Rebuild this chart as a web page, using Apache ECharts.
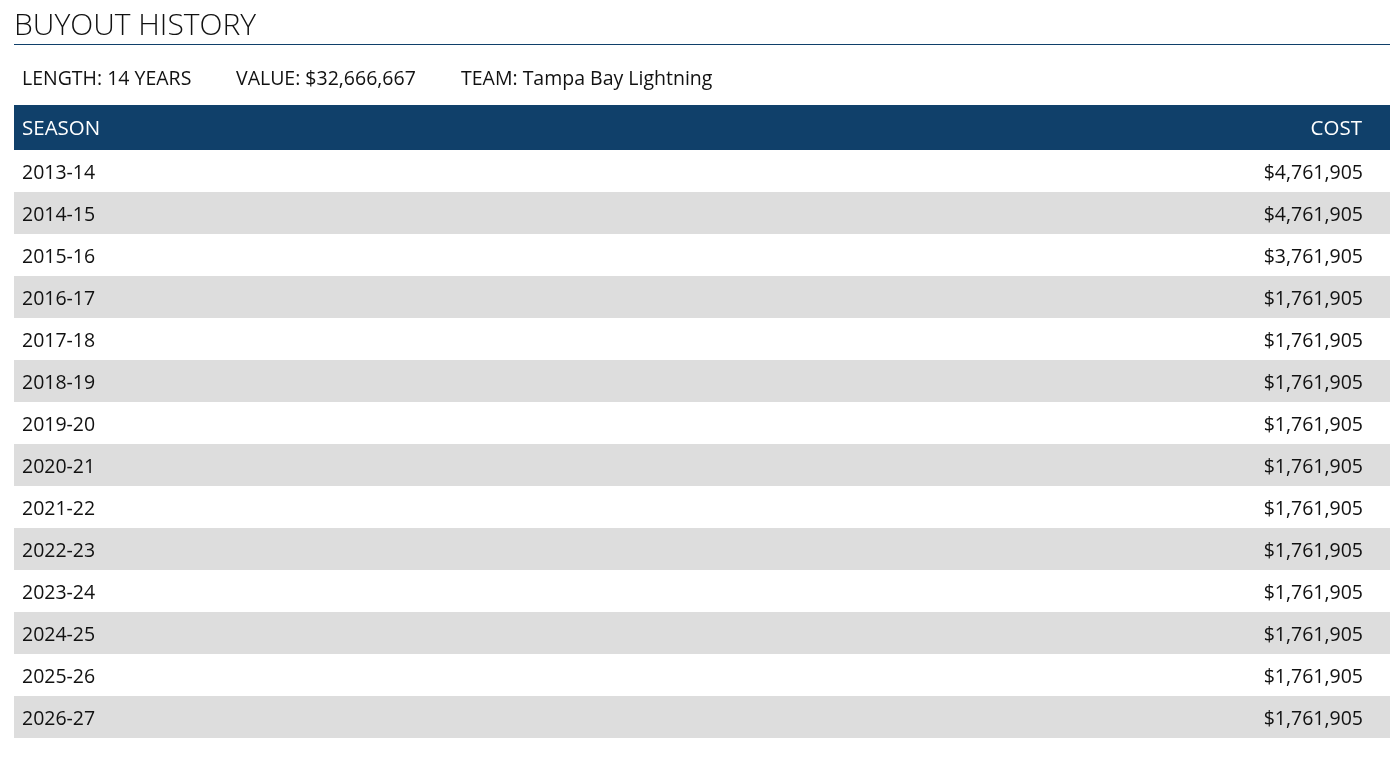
<!DOCTYPE html>
<html>
<head>
<meta charset="utf-8">
<script src="https://cdn.jsdelivr.net/npm/echarts@6/dist/echarts.min.js"></script>
<style>
html,body{margin:0;padding:0;background:#fff;}
#chart{width:1390px;height:762px;}
</style>
</head>
<body>
<div id="chart"></div>
<script>
const titleText = 'BUYOUT HISTORY';
const summaryItems = ['LENGTH: 14 YEARS', 'VALUE: $32,666,667', 'TEAM: Tampa Bay Lightning'];
const columnLabels = ['SEASON', 'COST'];
const seasons = ['2013-14','2014-15','2015-16','2016-17','2017-18','2018-19','2019-20','2020-21','2021-22','2022-23','2023-24','2024-25','2025-26','2026-27'];
const costs = [4761905,4761905,3761905,1761905,1761905,1761905,1761905,1761905,1761905,1761905,1761905,1761905,1761905,1761905];

const FONT = '"Open Sans", "Noto Sans", sans-serif';
const NAVY = '#10406a';
const BODY_FONT = '19.5px ' + FONT;
const HEAD_FONT = '20.5px ' + FONT;
const fmt = v => '$' + v.toLocaleString('en-US');

const chart = echarts.init(document.getElementById('chart'), null, {renderer: 'canvas'});
const summaryX = [22, 236, 461];

const option = {
  animation: false,
  backgroundColor: '#ffffff',
  title: {
    text: titleText, left: 9, top: 6,
    textStyle: {fontFamily: FONT, fontSize: 30, fontWeight: 300, color: '#111111'}
  },
  grid: {left: 14, right: 0, top: 150, height: 588, containLabel: false},
  xAxis: {type: 'value', min: 0, max: 1, show: false},
  yAxis: {type: 'category', data: seasons, inverse: true, show: false, boundaryGap: true},
  graphic: [
    {type: 'rect', shape: {x: 14, y: 44, width: 1376, height: 1}, style: {fill: NAVY}},
    ...summaryItems.map((t, i) => ({
      type: 'text', x: summaryX[i], y: 79,
      style: {text: t, font: BODY_FONT, fill: '#111111', verticalAlign: 'middle'}
    })),
    {type: 'rect', shape: {x: 14, y: 105, width: 1376, height: 45}, style: {fill: NAVY}},
    {type: 'text', x: 22, y: 129.5, style: {text: columnLabels[0], font: HEAD_FONT, fill: '#ffffff', verticalAlign: 'middle'}},
    {type: 'text', x: 1362, y: 129.5, style: {text: columnLabels[1], font: HEAD_FONT, fill: '#ffffff', verticalAlign: 'middle', align: 'right'}}
  ],
  series: [{
    type: 'custom',
    coordinateSystem: 'cartesian2d',
    data: seasons.map((s, i) => [0, s, costs[i]]),
    encode: {x: 0, y: 1},
    renderItem: function (params, api) {
      const cs = params.coordSys;
      const idx = params.dataIndex;
      const c = api.coord([0, idx]);
      const h = api.size([0, 1])[1];
      const top = c[1] - h / 2;
      return {
        type: 'group',
        children: [
          {type: 'rect', shape: {x: cs.x, y: top, width: cs.width, height: h},
           style: {fill: idx % 2 === 1 ? '#dddddd' : '#ffffff'}},
          {type: 'text', x: cs.x + 8, y: c[1] + 2.5,
           style: {text: seasons[idx], font: BODY_FONT, fill: '#111111', verticalAlign: 'middle'}},
          {type: 'text', x: cs.x + cs.width - 27, y: c[1] + 2.5,
           style: {text: fmt(api.value(2)), font: BODY_FONT, fill: '#111111', verticalAlign: 'middle', align: 'right'}}
        ]
      };
    }
  }]
};
chart.setOption(option);
</script>
</body>
</html>
